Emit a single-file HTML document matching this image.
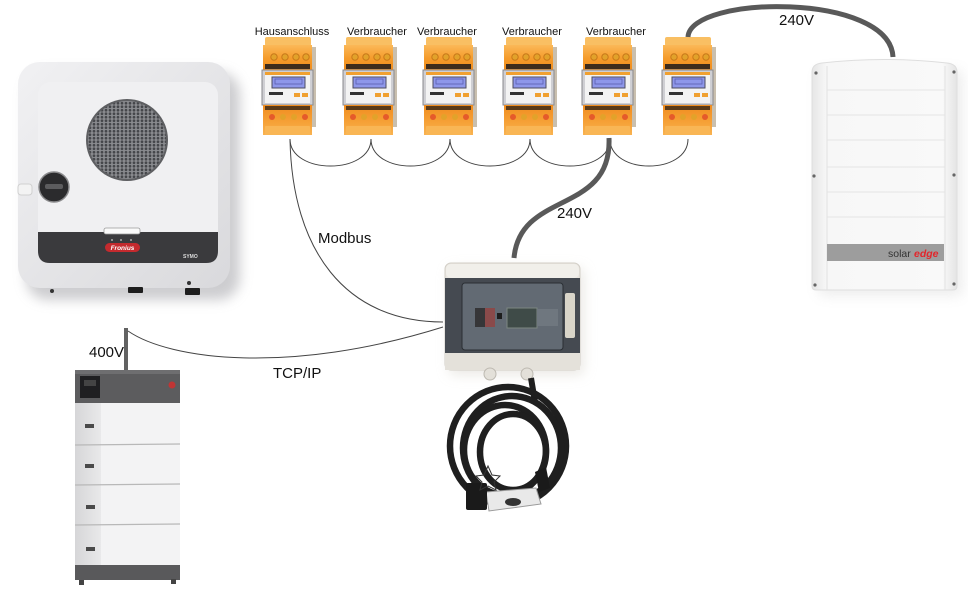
<!DOCTYPE html>
<html><head><meta charset="utf-8"><style>
html,body{margin:0;padding:0;background:#fff;}
svg{display:block;}
text{font-family:"Liberation Sans",Arial,sans-serif;}
</style></head><body>
<svg width="968" height="597" viewBox="0 0 968 597" xmlns="http://www.w3.org/2000/svg">
<defs>
  <linearGradient id="orU" x1="0" y1="0" x2="0" y2="1">
    <stop offset="0" stop-color="#fbb858"/><stop offset="0.5" stop-color="#f59c2c"/><stop offset="1" stop-color="#ef8a1a"/>
  </linearGradient>
  <linearGradient id="orL" x1="0" y1="0" x2="0" y2="1">
    <stop offset="0" stop-color="#f08c1e"/><stop offset="0.6" stop-color="#f6a238"/><stop offset="1" stop-color="#f9b352"/>
  </linearGradient>
  <linearGradient id="invG" x1="0" y1="0" x2="1" y2="1">
    <stop offset="0" stop-color="#f1f1f3"/><stop offset="1" stop-color="#d9d9dc"/>
  </linearGradient>
  <linearGradient id="batSide" x1="0" y1="0" x2="1" y2="0">
    <stop offset="0" stop-color="#d6d6d8"/><stop offset="1" stop-color="#e9e9ea"/>
  </linearGradient>
  <linearGradient id="seG" x1="0" y1="0" x2="1" y2="0">
    <stop offset="0" stop-color="#e6e6e6"/><stop offset="0.1" stop-color="#f7f7f7"/><stop offset="0.9" stop-color="#f9f9f9"/><stop offset="1" stop-color="#e4e4e4"/>
  </linearGradient>
  <pattern id="mesh" width="4" height="3.5" patternUnits="userSpaceOnUse">
    <rect width="4" height="3.5" fill="#8a8b8f"/>
    <circle cx="2" cy="1.75" r="1.35" fill="#45464a"/>
  </pattern>
  <filter id="sh" x="-20%" y="-20%" width="140%" height="140%">
    <feGaussianBlur stdDeviation="6"/>
  </filter>
  <g id="meter">
    <rect x="49" y="10" width="5" height="80" fill="#c9bfae"/>
    <rect x="3" y="0" width="46" height="9" rx="2" fill="#f9bf63"/>
    <rect x="1" y="8" width="49" height="26" fill="url(#orU)"/>
    <circle cx="12" cy="20" r="3.2" fill="#e2a22a" stroke="#c8781a" stroke-width="1"/>
    <circle cx="23" cy="20" r="3.2" fill="#e2a22a" stroke="#c8781a" stroke-width="1"/>
    <circle cx="34" cy="20" r="3.2" fill="#e2a22a" stroke="#c8781a" stroke-width="1"/>
    <circle cx="44" cy="20" r="3.2" fill="#e2a22a" stroke="#c8781a" stroke-width="1"/>
    <rect x="3" y="27" width="45" height="5" fill="#3e2c1c"/>
    <rect x="0" y="33" width="51" height="35" fill="#cfcfd3" stroke="#8a8a8e" stroke-width="1"/>
    <rect x="3" y="35" width="45" height="31" fill="#f3f3f3"/>
    <rect x="3" y="35" width="45" height="3" fill="#f0a030"/>
    <rect x="10" y="40" width="33" height="11" fill="#8e97ea" stroke="#4d4d60" stroke-width="1"/>
    <rect x="13" y="42" width="27" height="5" fill="none" stroke="#5a5fb0" stroke-width="0.8"/>
    <rect x="7" y="55" width="14" height="3" fill="#333"/>
    <rect x="32" y="56" width="6" height="4" fill="#f0a030"/>
    <rect x="40" y="56" width="6" height="4" fill="#f0a030"/>
    <rect x="1" y="68" width="49" height="30" fill="url(#orL)"/>
    <rect x="3" y="69" width="45" height="4" fill="#5a3a18"/>
    <circle cx="10" cy="80" r="3" fill="#e55a2a"/>
    <circle cx="21" cy="80" r="3" fill="#e2a22a"/>
    <circle cx="32" cy="80" r="3" fill="#e2a22a"/>
    <circle cx="43" cy="80" r="3" fill="#e55a2a"/>
    <rect x="3" y="89" width="45" height="9" rx="1" fill="#f9b655"/>
  </g>
</defs>

<rect width="968" height="597" fill="#fff"/>

<!-- ===== Fronius inverter ===== -->
<rect x="26" y="72" width="214" height="228" rx="22" fill="#b8b8bc" filter="url(#sh)" opacity="0.7"/>
<rect x="18" y="62" width="212" height="226" rx="22" fill="url(#invG)"/>
<rect x="38" y="82" width="180" height="181" rx="13" fill="#f0f0f2"/>
<circle cx="127" cy="140" r="41" fill="#5e5f62"/>
<circle cx="127" cy="140" r="39" fill="url(#mesh)"/>
<rect x="18" y="184" width="14" height="11" rx="3" fill="#f3f3f3" stroke="#d0d0d0"/>
<circle cx="54" cy="187" r="15" fill="#2b2b2d" stroke="#8a8a8c" stroke-width="1.5"/>
<rect x="45" y="184" width="18" height="5" rx="2" fill="#5c5c5e"/>
<path d="M38,232 H218 V251 Q218,263 206,263 H50 Q38,263 38,251 Z" fill="#3a3a3d"/>
<rect x="104" y="228" width="36" height="6" rx="2" fill="#fafafa" stroke="#9a9a9a" stroke-width="0.8"/>
<circle cx="112" cy="240" r="1" fill="#aaa"/><circle cx="121" cy="240" r="1" fill="#aaa"/><circle cx="131" cy="240" r="1" fill="#aaa"/>
<rect x="105" y="243" width="35" height="9" rx="4.5" fill="#c42a2e"/>
<text x="122.5" y="250" font-size="6.5" font-style="italic" font-weight="bold" fill="#fff" text-anchor="middle">Fronius</text>
<text x="183" y="258" font-size="5" font-weight="bold" fill="#ddd">SYMO</text>
<circle cx="52" cy="291" r="2" fill="#333"/>
<circle cx="189" cy="283" r="2" fill="#333"/>
<rect x="128" y="287" width="15" height="6" rx="1" fill="#1e1e1e"/>
<rect x="185" y="288" width="15" height="7" rx="1" fill="#1e1e1e"/>

<!-- ===== Battery ===== -->
<rect x="124" y="328" width="4" height="45" fill="#626262"/>
<rect x="75" y="370" width="105" height="33" fill="#5c5c5e"/>
<rect x="75" y="370" width="105" height="4" fill="#6e6e70"/>
<rect x="80" y="376" width="20" height="22" fill="#1f1f21"/>
<rect x="84" y="380" width="12" height="6" fill="#444"/>
<circle cx="172" cy="385" r="3.5" fill="#c03535"/>
<g>
  <rect x="75" y="403" width="26" height="162" fill="url(#batSide)"/>
  <rect x="101" y="403" width="79" height="162" fill="#f3f3f4"/>
  <line x1="75" y1="445" x2="180" y2="444" stroke="#b8b8b8" stroke-width="1.2"/>
  <line x1="75" y1="485" x2="180" y2="484" stroke="#b8b8b8" stroke-width="1.2"/>
  <line x1="75" y1="525" x2="180" y2="524" stroke="#b8b8b8" stroke-width="1.2"/>
  <rect x="85" y="424" width="9" height="4" fill="#4a4a4a"/>
  <rect x="85" y="464" width="9" height="4" fill="#4a4a4a"/>
  <rect x="86" y="505" width="9" height="4" fill="#4a4a4a"/>
  <rect x="86" y="547" width="9" height="4" fill="#4a4a4a"/>
</g>
<rect x="75" y="565" width="105" height="15" fill="#59595b"/>
<rect x="79" y="580" width="5" height="5" fill="#444"/>
<rect x="171" y="579" width="5" height="5" fill="#444"/>

<!-- ===== Meters ===== -->
<use href="#meter" x="262" y="37"/>
<use href="#meter" x="343" y="37"/>
<use href="#meter" x="423" y="37"/>
<use href="#meter" x="503" y="37"/>
<use href="#meter" x="582" y="37"/>
<use href="#meter" x="662" y="37"/>

<g font-size="11" fill="#111" text-anchor="middle">
  <text x="292" y="35">Hausanschluss</text>
  <text x="377" y="35">Verbraucher</text>
  <text x="447" y="35">Verbraucher</text>
  <text x="532" y="35">Verbraucher</text>
  <text x="616" y="35">Verbraucher</text>
</g>

<!-- meter daisy-chain arcs -->
<g fill="none" stroke="#444" stroke-width="1">
  <path d="M290,139 C290,175 371,175 371,139"/>
  <path d="M371,139 C371,175 450,175 450,139"/>
  <path d="M450,139 C450,175 530,175 530,139"/>
  <path d="M530,139 C530,175 610,175 610,139"/>
  <path d="M610,139 C610,175 688,175 688,139"/>
  <path d="M290,139 C292,250 345,322 443,322"/>
  <path d="M128,331 C170,360 290,375 443,327"/>
</g>

<!-- ===== SolarEdge ===== -->
<rect x="818" y="70" width="145" height="226" rx="6" fill="#cfcfcf" filter="url(#sh)" opacity="0.35"/>
<path d="M812,72 Q812,64 822,63 Q884,56 947,63 Q957,64 957,72 V286 Q957,290 953,290 H816 Q812,290 812,286 Z" fill="url(#seG)" stroke="#dedede" stroke-width="1"/>
<g stroke="#e5e5e5" stroke-width="1">
  <line x1="827" y1="90" x2="945" y2="90"/>
  <line x1="827" y1="115" x2="945" y2="115"/>
  <line x1="827" y1="140" x2="945" y2="140"/>
  <line x1="827" y1="167" x2="945" y2="167"/>
  <line x1="827" y1="192" x2="945" y2="192"/>
  <line x1="827" y1="217" x2="945" y2="217"/>
</g>
<line x1="827" y1="66" x2="827" y2="290" stroke="#e2e2e2"/>
<line x1="945" y1="66" x2="945" y2="290" stroke="#e2e2e2"/>
<g fill="#666">
  <circle cx="816" cy="73" r="1.6"/><circle cx="814" cy="176" r="1.6"/><circle cx="815" cy="285" r="1.6"/>
  <circle cx="954" cy="72" r="1.6"/><circle cx="954" cy="175" r="1.6"/><circle cx="954" cy="284" r="1.6"/>
</g>
<rect x="827" y="244" width="117" height="17" fill="#9d9d9d"/>
<text x="888" y="257" font-size="10.5" fill="#333">solar</text>
<text x="914" y="257" font-size="10.5" font-style="italic" font-weight="bold" fill="#e2262b">edge</text>

<!-- ===== EV charger ===== -->
<rect x="449" y="268" width="135" height="107" rx="6" fill="#d8d4cc" filter="url(#sh)" opacity="0.5"/>
<rect x="445" y="263" width="135" height="107" rx="6" fill="#e9e6e0" stroke="#d2cec6"/>
<rect x="446" y="264" width="133" height="14" rx="5" fill="#f1efea"/>
<rect x="445" y="278" width="135" height="75" fill="#454a51"/>
<rect x="462" y="283" width="101" height="67" rx="3" fill="#626a73" stroke="#2a2e33"/>
<rect x="475" y="308" width="10" height="19" fill="#363638"/>
<rect x="485" y="308" width="10" height="19" fill="#8a4a4a"/>
<rect x="497" y="313" width="5" height="6" fill="#1d1d1d"/>
<rect x="507" y="308" width="30" height="20" fill="#3f4b48" stroke="#7c8782"/>
<rect x="537" y="309" width="21" height="17" fill="#6f777f"/>
<rect x="565" y="293" width="10" height="45" rx="2" fill="#d9d5c9"/>
<rect x="445" y="353" width="135" height="17" fill="#e4e1da"/>
<circle cx="490" cy="374" r="6" fill="#e3e0d9" stroke="#bdb9b1"/>
<circle cx="527" cy="374" r="6" fill="#e3e0d9" stroke="#bdb9b1"/>
<path d="M531,378 L535,402" stroke="#1e1e1e" stroke-width="6" fill="none"/>
<g fill="none" stroke="#1f1f1f" stroke-width="6.5">
  <ellipse cx="508" cy="446" rx="58" ry="59"/>
  <ellipse cx="512" cy="448" rx="49" ry="52"/>
  <ellipse cx="505" cy="450" rx="41" ry="45"/>
  <ellipse cx="513" cy="452" rx="33" ry="38"/>
</g>
<path d="M486,492 L536,488 L541,504 L489,511 Z" fill="#e9e9e9" stroke="#9a9a9a"/>
<ellipse cx="513" cy="502" rx="8" ry="4" fill="#333"/>
<rect x="466" y="483" width="21" height="27" rx="2" fill="#1a1a1a"/>
<path d="M535,472 L546,467 L550,488 L539,492 Z" fill="#1a1a1a"/>
<path d="M484,475 L488,466 L492,475 L500,476 L494,482 L496,490 L488,486 L480,490 L482,482 L476,476 Z" fill="none" stroke="#333" stroke-width="1"/>

<!-- ===== thick power cables ===== -->
<path d="M609,138 C612,215 520,190 514,258" fill="none" stroke="#595959" stroke-width="5"/>
<path d="M688,37 C690,-5 890,-8 893,57" fill="none" stroke="#595959" stroke-width="5"/>

<!-- ===== labels ===== -->
<g font-size="15" fill="#111">
  <text x="779" y="25">240V</text>
  <text x="557" y="218">240V</text>
  <text x="318" y="243">Modbus</text>
  <text x="273" y="378">TCP/IP</text>
  <text x="89" y="357">400V</text>
</g>
</svg>
</body></html>
